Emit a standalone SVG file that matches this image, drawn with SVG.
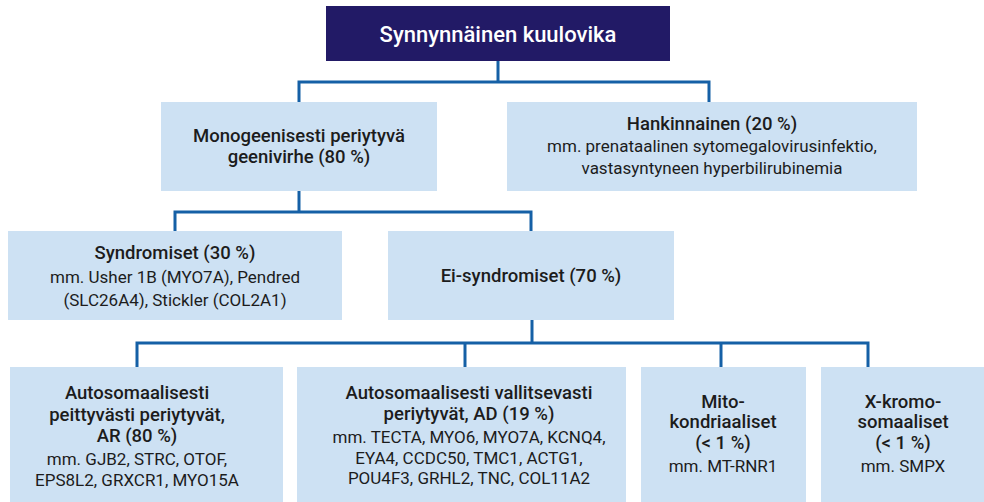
<svg xmlns="http://www.w3.org/2000/svg" width="984" height="502" viewBox="0 0 984 502">
<style>
.box{fill:#cde1f3}
.root{fill:#221a66}
.t{font-family:Roboto,"Liberation Sans",sans-serif;fill:#1c1c1c;text-anchor:middle}
.h{font-size:18.5px;font-weight:500}
.d{font-size:17px;font-weight:400}
.w{fill:#ffffff;font-size:22px;font-weight:500}
.c{fill:none;stroke:#1560a6;stroke-width:3}
</style>
<rect width="984" height="502" fill="#ffffff"/>
<g id="connectors">
<path class="c" d="M498 61V82"/>
<path class="c" d="M299 102V82H709V102"/>
<path class="c" d="M299 191V212"/>
<path class="c" d="M175 231V212H531V231"/>
<path class="c" d="M532 320V343"/>
<path class="c" d="M137 367V343H868V367"/>
<path class="c" d="M465 343V367"/>
<path class="c" d="M721 343V367"/>
</g>
<g id="root">
<rect class="root" x="326" y="6" width="344" height="55"/>
<text class="t w" x="498" y="42">Synnynnäinen kuulovika</text>
</g>
<g id="monogeeninen">
<rect class="box" x="161" y="102" width="276" height="89"/>
<text class="t h" x="299" y="142">Monogeenisesti periytyvä</text>
<text class="t h" x="299" y="163">geenivirhe (80 %)</text>
</g>
<g id="hankinnainen">
<rect class="box" x="507" y="102" width="410" height="89"/>
<text class="t h" x="712" y="130">Hankinnainen (20 %)</text>
<text class="t d" x="712" y="152">mm. prenataalinen sytomegalovirusinfektio,</text>
<text class="t d" x="712" y="174">vastasyntyneen hyperbilirubinemia</text>
</g>
<g id="syndromiset">
<rect class="box" x="8" y="231" width="334" height="89"/>
<text class="t h" x="175" y="259">Syndromiset (30 %)</text>
<text class="t d" x="175" y="283">mm. Usher 1B (MYO7A), Pendred</text>
<text class="t d" x="175" y="306">(SLC26A4), Stickler (COL2A1)</text>
</g>
<g id="ei-syndromiset">
<rect class="box" x="388" y="231" width="286" height="89"/>
<text class="t h" x="531" y="282">Ei-syndromiset (70 %)</text>
</g>
<g id="ar">
<rect class="box" x="10" y="367" width="273" height="135"/>
<text class="t h" x="137" y="399">Autosomaalisesti</text>
<text class="t h" x="137" y="421">peittyvästi periytyvät,</text>
<text class="t h" x="137" y="442">AR (80 %)</text>
<text class="t d" x="137" y="465">mm. GJB2, STRC, OTOF,</text>
<text class="t d" x="137" y="486">EPS8L2, GRXCR1, MYO15A</text>
</g>
<g id="ad">
<rect class="box" x="297" y="367" width="329" height="135"/>
<text class="t h" x="469" y="399">Autosomaalisesti vallitsevasti</text>
<text class="t h" x="469" y="420">periytyvät, AD (19 %)</text>
<text class="t d" x="469" y="443">mm. TECTA, MYO6, MYO7A, KCNQ4,</text>
<text class="t d" x="469" y="464">EYA4, CCDC50, TMC1, ACTG1,</text>
<text class="t d" x="469" y="484">POU4F3, GRHL2, TNC, COL11A2</text>
</g>
<g id="mito">
<rect class="box" x="641" y="367" width="165" height="135"/>
<text class="t h" x="723" y="408">Mito-</text>
<text class="t h" x="723" y="428">kondriaaliset</text>
<text class="t h" x="723" y="449">(&lt; 1 %)</text>
<text class="t d" x="723" y="472">mm. MT-RNR1</text>
</g>
<g id="x">
<rect class="box" x="821" y="367" width="163" height="135"/>
<text class="t h" x="903" y="408">X-kromo-</text>
<text class="t h" x="903" y="428">somaaliset</text>
<text class="t h" x="903" y="449">(&lt; 1 %)</text>
<text class="t d" x="903" y="472">mm. SMPX</text>
</g>
</svg>
